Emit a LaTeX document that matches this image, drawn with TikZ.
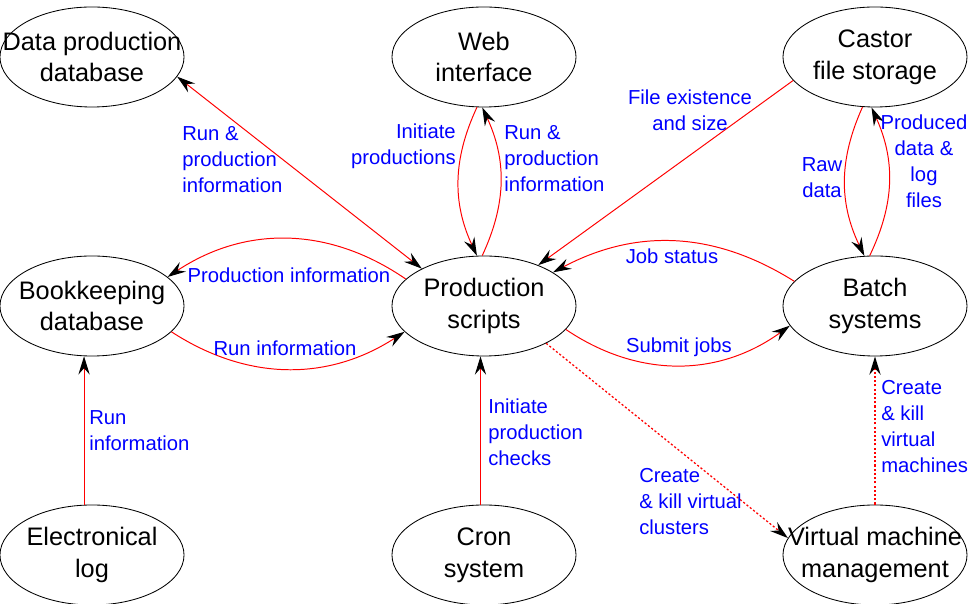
\documentclass[tikz,border=0pt]{standalone}
\usepackage{fontspec}
\setmainfont{Liberation Sans}
\usetikzlibrary{shapes.geometric,arrows.meta}

\tikzset{
  comp/.style={draw,ellipse,line width=0.6pt,minimum width=4.6cm,minimum height=2.5cm,inner sep=0pt},
  every label/.style={align=center,font=\fontsize{18}{22.5}\selectfont},
  info/.style={blue,inner sep=0pt,font=\fontsize{14.4}{18.5}\selectfont},
  flow/.style={red,line width=0.7pt},
  vflow/.style={flow,line width=0.9pt,dash pattern=on 1.5pt off 1.5pt},
  >={Stealth[color=black,length=13pt,width=8pt,inset=4.5pt]}
}

\begin{document}
\begin{tikzpicture}[x=0.025cm,y=0.025cm]
\useasboundingbox (0,0) rectangle (968,604);

% components
\node[comp,label={center:Data production\\database}] (dpdb) at (92,547) {};
\node[comp,label={center:Web\\interface}] (web) at (484,547) {};
\node[comp,label={center:Castor\\file storage}] (castor) at (875,547) {};
\node[comp,label={center:Bookkeeping\\database}] (bkdb) at (92,298) {};
\node[comp,label={center:Production\\scripts}] (prod) at (484,298) {};
\node[comp,label={center:Batch\\systems}] (batch) at (875,298) {};
\node[comp,label={center:Electronical\\log}] (elog) at (92,49) {};
\node[comp,label={center:Cron\\system}] (cron) at (484,49) {};
\node[comp,label={center:Virtual machine\\management}] (vmm) at (875,49) {};

% data flows
\draw[flow,<->] (dpdb.-13) -- (prod.149);
\draw[flow,->] (web.262) to[bend right=25] (prod.98);
\draw[flow,->] (prod.92) to[bend right=25] (web.268);
\draw[flow,->] (castor.196) -- (prod.37);
\draw[flow,->] (castor.256) to[bend right=25] (batch.102);
\draw[flow,->] (batch.96) to[bend right=25] (castor.266);
\draw[flow,->] (prod.161) to[bend right=34] (bkdb.21);
\draw[flow,->] (bkdb.-18) to[bend right=33] (prod.198);
\draw[flow,->] (batch.163) to[bend right=30] (prod.26);
\draw[flow,->] (prod.-16) to[bend right=35] (batch.193);
\draw[flow,->] (elog.99) -- (bkdb.261);
\draw[flow,->] (cron.94) -- (prod.266);
\draw[vflow,->] (prod.-31) -- (vmm.169);
\draw[vflow,->] (vmm) -- (batch);

% flow labels
\node[info,anchor=west,align=left] (rundp) at (182,444) {Run \&\\production\\information};
\node[info,anchor=east,align=right] (initprod) at (456,458) {Initiate\\productions};
\node[info,anchor=west,align=left] (runweb) at (504,445) {Run \&\\production\\information};
\node[info,align=center] (fileex) at (690,494) {File existence\\and size};
\node[info,align=center] (rawdata) at (822,426) {Raw\\data};
\node[info,align=center] (proddata) at (924,443) {Produced\\data \&\\log\\files};
\node[info] (prodinfo) at (289,329) {Production information};
\node[info] (runinfo) at (285,256) {Run information};
\node[info] (jobstat) at (672,348) {Job status};
\node[info] (submit) at (679,257) {Submit jobs};
\node[info,anchor=west,align=left] (runelog) at (89,173) {Run\\information};
\node[info,anchor=west,align=left] (initchk) at (488,172) {Initiate\\production\\checks};
\node[info,anchor=west,align=left] (vclust) at (639,102) {Create\\\& kill virtual\\clusters};
\node[info,anchor=west,align=left] (vmach) at (881,177) {Create\\\& kill\\virtual\\machines};
\end{tikzpicture}
\end{document}
